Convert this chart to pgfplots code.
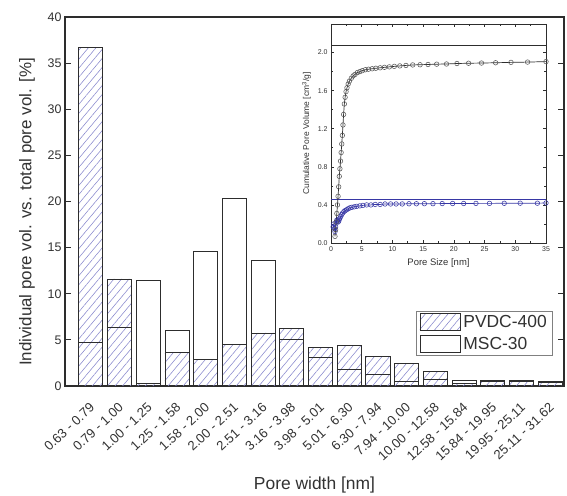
\documentclass[border=0pt]{standalone}
\usepackage{fontspec}
\setmainfont{Liberation Sans}
\usepackage{pgfplots}
\pgfplotsset{compat=1.18}
\pgfplotsset{/pgf/number format/assume math mode=true}
\usetikzlibrary{patterns.meta}
\definecolor{txt}{RGB}{50,50,50}
\definecolor{hatch}{RGB}{135,135,205}
\definecolor{bl}{RGB}{55,55,165}
\definecolor{edge}{RGB}{45,45,45}
\pgfplotsset{mybarlegend/.style={legend image code/.code={\draw[##1] (0bp,-8.5bp) rectangle (40bp,8.5bp);}}}
\begin{document}
\begin{tikzpicture}
\path[use as bounding box] (-65bp,-110bp) rectangle (502bp,386bp);
\begin{axis}[
  at={(0bp,0bp)}, anchor=south west,
  scale only axis, width=499bp, height=369bp,
  xmin=-0.9, xmax=16.48, ymin=0, ymax=40,
  ytick={0,5,...,40},
  xtick={0,...,16},
  xticklabels={0.63 - 0.79, 0.79 - 1.00, 1.00 - 1.25, 1.25 - 1.58, 1.58 - 2.00, 2.00 - 2.51, 2.51 - 3.16, 3.16 - 3.98, 3.98 - 5.01, 5.01 - 6.30, 6.30 - 7.94, 7.94 - 10.00, 10.00 - 12.58, 12.58 - 15.84, 15.84 - 19.95, 19.95 - 25.11, 25.11 - 31.62},
  xtick style={draw=none},
  ytick pos=both, yticklabel pos=left,
  tick align=inside, major tick length=6bp,
  axis line style={edge, line width=1.1bp},
  every tick/.style={edge, line width=1bp},
  yticklabel style={font=\fontsize{12.5}{14}\selectfont, text=txt},
  xticklabel style={font=\fontsize{13.2}{15}\selectfont, text=txt, xshift=4bp, yshift=-17bp, rotate=43, anchor=east},
  label style={text=txt},
  xlabel={Pore width [nm]},
  ylabel={Individual pore vol. vs. total pore vol. [\%]},
  xlabel style={font=\fontsize{17.5}{19}\selectfont, at={(axis description cs:0.5,-0.268)}, anchor=center},
  ylabel style={font=\fontsize{17}{19}\selectfont, at={(axis description cs:-0.076,0.4715)}, anchor=center},
  legend style={at={(axis description cs:0.978,0.203)}, anchor=north east,
    draw=gray, line width=0.6bp, font=\fontsize{17.5}{19}\selectfont, text=txt,
    inner xsep=3bp, inner ysep=2bp, row sep=4bp, nodes={inner xsep=3bp}},
  legend cell align=left,
]
\addplot[ybar, bar width=0.84, bar shift=0pt, draw=edge, line width=0.8bp,
  pattern={Lines[angle=50,distance=5.8bp,line width=0.55bp]}, pattern color=hatch,
  mybarlegend]
coordinates {
(0,36.7) (1,11.6) (2,0.25) (3,3.6) (4,2.9) (5,4.5) (6,5.75) (7,6.2) (8,4.2)
(9,4.35) (10,3.25) (11,2.45) (12,1.6) (13,0.3) (14,0.45) (15,0.55) (16,0.45)
};
\addlegendentry{PVDC-400}
\addplot[ybar, bar width=0.84, bar shift=0pt, draw=edge, line width=0.8bp, fill=none,
  mybarlegend]
coordinates {
(0,4.7) (1,6.3) (2,11.4) (3,6.05) (4,14.6) (5,20.3) (6,13.65) (7,5.05) (8,3.05)
(9,1.85) (10,1.25) (11,0.5) (12,0.7) (13,0.6) (14,0.6) (15,0.6) (16,0.4)
};
\addlegendentry{MSC-30}
\end{axis}

\begin{axis}[
  at={(266bp,143bp)}, anchor=south west,
  scale only axis, width=215bp, height=219bp,
  xmin=0, xmax=35, ymin=0, ymax=2.3,
  xtick={0,5,...,35}, ytick={0,0.4,0.8,1.2,1.6,2.0},
  minor x tick num=1, minor y tick num=1,
  xtick pos=both, ytick pos=both, xticklabel pos=lower, yticklabel pos=left,
  tick align=inside, major tick length=3bp, minor tick length=1.8bp,
  axis line style={edge, line width=0.7bp},
  every tick/.style={edge, line width=0.6bp},
  ticklabel style={font=\fontsize{7}{8}\selectfont, text=txt},
  yticklabel style={/pgf/number format/.cd, fixed, fixed zerofill, precision=1},
  xlabel style={font=\fontsize{9.5}{10}\selectfont, text=txt},
  ylabel style={font=\fontsize{8.5}{10}\selectfont, text=txt},
  xlabel={Pore Size [nm]},
  ylabel={Cumulative Pore Volume [cm\textsuperscript{3}/g]},
]
\addplot[edge, line width=0.8bp] coordinates {(0,2.07) (35,2.07)};
\addplot[bl, line width=0.8bp] coordinates {(0,0.46) (35,0.46)};
\addplot[bl, line width=0.7bp, mark=o, mark size=2.3pt, mark options={fill=white, line width=0.55bp}] coordinates {
(0.35,0.17) (0.45,0.20) (0.55,0.15) (0.65,0.12) (0.75,0.17) (0.85,0.22) (0.95,0.24)
(1.05,0.23) (1.15,0.22) (1.25,0.23) (1.35,0.25) (1.45,0.26) (1.6,0.28) (1.75,0.30)
(1.9,0.315) (2.1,0.33) (2.3,0.34) (2.55,0.35) (2.8,0.36) (3.1,0.37) (3.4,0.375)
(3.8,0.38) (4.2,0.385) (4.7,0.39) (5.2,0.395) (5.8,0.40) (6.5,0.40) (7.2,0.405)
(8.0,0.405) (8.8,0.41) (9.7,0.41) (10.6,0.41) (11.6,0.41) (12.7,0.412) (13.9,0.412)
(15.2,0.413) (16.6,0.413) (18.1,0.414) (19.8,0.415) (21.6,0.415) (23.6,0.416)
(25.8,0.416) (28.2,0.417) (30.8,0.418) (33.6,0.418) (35.0,0.42)
};
\addplot[edge, line width=0.7bp, mark=o, mark size=2.3pt, mark options={fill=white, draw=gray!70!black, line width=0.55bp}] coordinates {
(0.65,0.07) (0.75,0.14) (0.85,0.22) (0.95,0.31) (1.05,0.40) (1.15,0.49) (1.25,0.59)
(1.35,0.70) (1.45,0.78) (1.55,0.86) (1.65,0.95) (1.75,1.04) (1.85,1.13) (1.95,1.24)
(2.05,1.35) (2.17,1.46) (2.3,1.53) (2.45,1.59) (2.6,1.63) (2.8,1.67) (3.0,1.70)
(3.3,1.73) (3.6,1.755) (3.9,1.77) (4.3,1.79) (4.7,1.80) (5.1,1.81) (5.6,1.82)
(6.1,1.825) (6.7,1.83) (7.3,1.835) (8.0,1.84) (8.7,1.845) (9.5,1.85) (10.3,1.855)
(11.2,1.86) (12.2,1.865) (13.3,1.87) (14.5,1.872) (15.8,1.875) (17.2,1.878)
(18.8,1.88) (20.5,1.885) (22.4,1.888) (24.5,1.89) (26.8,1.893) (29.3,1.897)
(32.0,1.90) (35.0,1.905)
};
\end{axis}
\end{tikzpicture}
\end{document}
